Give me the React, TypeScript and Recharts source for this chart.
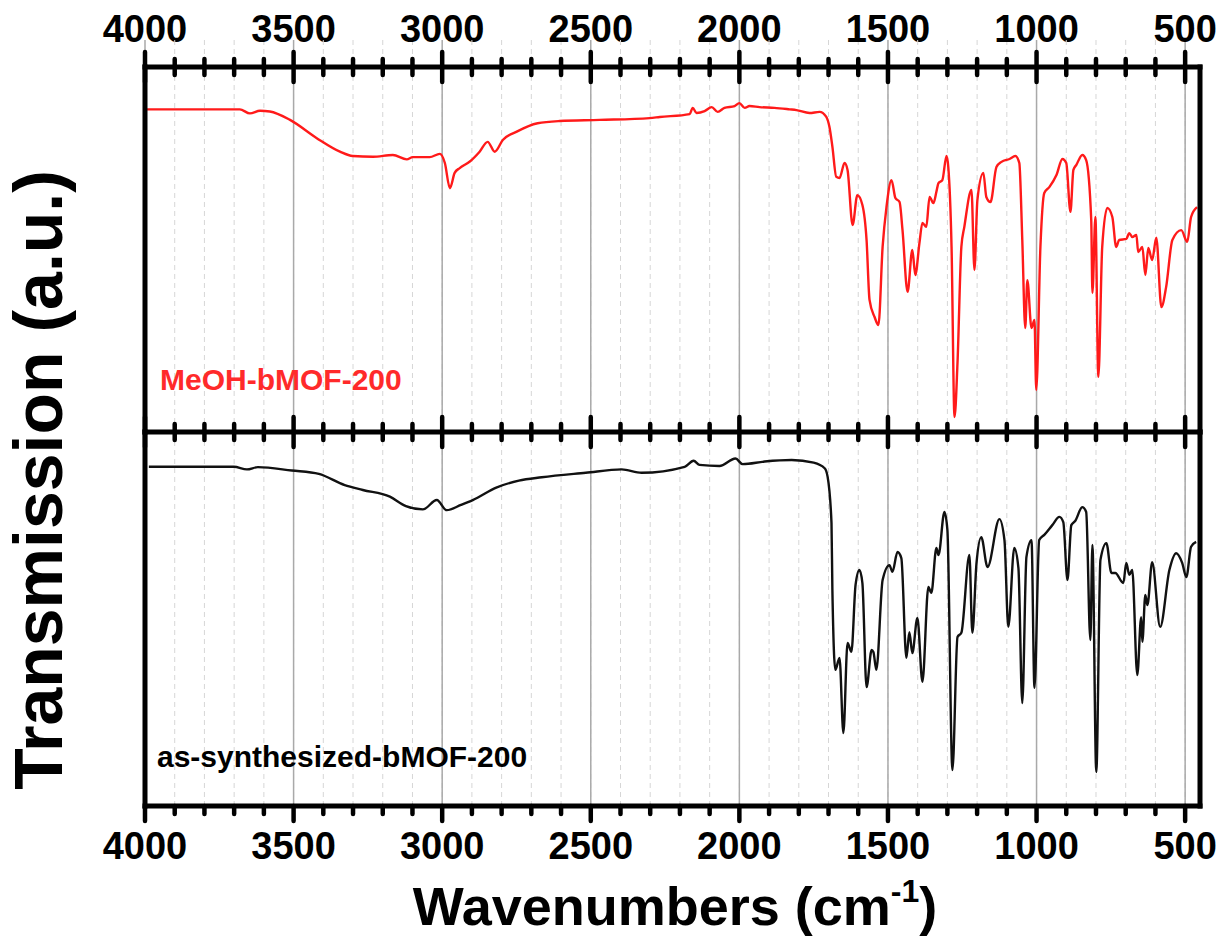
import { CartesianGrid, Line, LineChart, ReferenceLine, XAxis, YAxis } from "recharts";

const FONT = "'Liberation Sans', Arial, Helvetica, sans-serif";
const WIDTH = 1221;
const HEIGHT = 947;
const PLOT_LEFT = 145;
const PLOT_RIGHT = 1200;
const TOP_Y = 67;
const MID_Y = 432;
const BOTTOM_Y = 806;

// [wavenumber (cm-1), transmission (a.u., 0 = bottom of its panel, 100 = top)]
const meohSpectrum: [number, number][] = [
  [3993, 88.4], [3681, 88.4], [3647, 87.3], [3613, 88.0], [3580, 87.8], [3512, 85.5],
  [3422, 80.5], [3344, 76.8], [3301, 75.6], [3233, 75.4], [3166, 75.9], [3119, 74.7],
  [3099, 75.3], [3042, 75.3], [3008, 76.2], [2991, 73.7], [2974, 66.8], [2958, 71.0],
  [2941, 72.3], [2907, 74.1], [2874, 76.8], [2847, 79.5], [2823, 76.8], [2796, 80.0],
  [2749, 82.3], [2679, 84.6], [2605, 85.2], [2470, 85.5], [2302, 86.0], [2268, 86.3],
  [2167, 87.1], [2157, 88.8], [2144, 87.4], [2117, 87.9], [2093, 89.0], [2073, 87.7],
  [2050, 88.8], [2016, 89.3], [2000, 90.1], [1982, 88.8], [1966, 89.3], [1932, 89.0],
  [1882, 88.8], [1831, 88.4], [1808, 88.2], [1764, 87.4], [1730, 87.7], [1708, 86.4],
  [1697, 83.6], [1687, 78.2], [1674, 69.9], [1663, 69.6], [1646, 73.7], [1636, 71.8],
  [1619, 56.7], [1603, 64.9], [1586, 62.2], [1572, 52.6], [1562, 36.2], [1545, 31.5],
  [1532, 29.3], [1518, 50.7], [1505, 61.6], [1488, 69.0], [1475, 64.1], [1461, 63.0],
  [1451, 55.3], [1434, 38.4], [1418, 49.9], [1408, 43.0], [1394, 51.8], [1384, 57.3],
  [1371, 56.2], [1360, 64.4], [1347, 62.7], [1337, 65.8], [1330, 68.2], [1317, 69.0],
  [1303, 75.6], [1297, 72.6], [1286, 50.7], [1276, 4.1], [1266, 18.9], [1253, 50.7],
  [1243, 56.2], [1219, 66.3], [1209, 44.4], [1199, 63.6], [1179, 71.0], [1169, 64.4],
  [1155, 63.0], [1135, 72.6], [1118, 74.0], [1091, 74.8], [1071, 75.6], [1058, 73.7],
  [1048, 52.6], [1038, 28.5], [1031, 41.6], [1017, 28.5], [1007, 30.7], [1001, 11.5],
  [987, 50.7], [974, 65.5], [957, 67.1], [933, 70.4], [913, 74.8], [900, 73.7],
  [886, 60.3], [876, 71.8], [866, 73.2], [846, 75.9], [833, 74.5], [816, 58.1],
  [812, 38.1], [802, 58.9], [792, 15.1], [779, 50.7], [762, 61.4], [745, 58.9],
  [732, 50.7], [722, 52.6], [698, 52.9], [688, 54.5], [678, 53.4], [664, 54.0],
  [658, 49.3], [644, 50.7], [634, 43.0], [624, 50.4], [611, 47.1], [597, 53.2],
  [580, 34.2], [564, 39.7], [543, 52.6], [513, 55.3], [493, 52.1], [480, 58.9],
  [460, 61.6],
];

const asSynthesizedSpectrum: [number, number][] = [
  [3987, 90.7], [3701, 90.7], [3657, 90.0], [3620, 90.6], [3506, 89.7], [3415, 88.8],
  [3328, 85.8], [3267, 84.5], [3176, 82.7], [3122, 80.2], [3065, 79.3], [3018, 81.8],
  [2985, 79.1], [2937, 80.5], [2897, 81.8], [2816, 85.2], [2742, 87.0], [2665, 87.9],
  [2517, 89.1], [2396, 90.0], [2329, 89.1], [2184, 90.7], [2154, 92.3], [2134, 91.2],
  [2067, 90.9], [2013, 92.9], [1989, 91.4], [1915, 92.1], [1824, 92.5], [1750, 91.8],
  [1713, 90.3], [1703, 88.0], [1690, 75.7], [1687, 57.8], [1677, 36.4], [1663, 39.6],
  [1650, 19.5], [1636, 43.6], [1623, 41.2], [1609, 59.1], [1596, 63.1], [1586, 59.6],
  [1572, 31.8], [1555, 41.7], [1549, 41.2], [1539, 36.4], [1518, 60.4], [1495, 64.4],
  [1485, 62.6], [1468, 67.9], [1455, 66.3], [1438, 39.6], [1428, 46.5], [1418, 40.9],
  [1401, 50.3], [1384, 33.2], [1364, 58.6], [1354, 57.0], [1337, 69.0], [1330, 67.1],
  [1310, 78.6], [1300, 73.8], [1283, 9.6], [1266, 45.2], [1253, 46.3], [1226, 67.1],
  [1216, 46.3], [1202, 65.0], [1186, 71.9], [1165, 63.9], [1125, 76.7], [1108, 71.1],
  [1095, 47.9], [1075, 69.0], [1061, 63.6], [1048, 27.5], [1034, 66.6], [1017, 71.1],
  [1007, 31.6], [991, 71.1], [974, 72.5], [947, 75.1], [923, 77.3], [910, 75.9],
  [896, 60.4], [883, 75.1], [870, 76.2], [846, 79.9], [833, 78.6], [819, 44.4],
  [812, 69.8], [799, 9.1], [785, 65.8], [765, 70.3], [748, 62.3], [735, 62.3],
  [708, 59.6], [698, 65.0], [688, 61.8], [678, 63.1], [661, 35.0], [648, 50.5],
  [644, 43.9], [634, 56.4], [627, 53.7], [611, 65.2], [584, 47.9], [553, 63.1],
  [530, 67.6], [510, 65.0], [496, 61.2], [480, 69.3], [463, 70.6],
];

const majorTicks = [4000, 3500, 3000, 2500, 2000, 1500, 1000, 500];
const allTicks = Array.from({ length: 36 }, (_, i) => 4000 - i * 100);
const X_DOMAIN: [number, number] = [450, 4000];
const seriesNames = ["MeOH-bMOF-200", "as-synthesized-bMOF-200"];

type TickProps = { x?: number; y?: number; payload?: { value: number } };
type TickKind = "top" | "mid" | "bottom";

function renderTick(kind: TickKind) {
  return ({ x = 0, y = 0, payload }: TickProps) => {
    const value = payload?.value ?? 0;
    const major = value % 500 === 0;
    const len = major ? 15 : 8;
    const y1 = kind === "bottom" ? y : y - len;
    const y2 = y + len;
    return (
      <g>
        {kind === "top" && (
          <line
            x1={x}
            x2={x}
            y1={y - 27}
            y2={y}
            stroke={major ? "#a9a9a9" : "#d6d6d6"}
            strokeWidth={major ? 1.5 : 1}
            strokeDasharray={major ? undefined : "5 4"}
          />
        )}
        <line x1={x} x2={x} y1={y1} y2={y2} stroke="#000" strokeWidth={4.5} strokeLinecap="round" />
        {major && kind !== "mid" && (
          <text
            x={x}
            y={kind === "top" ? y - 25 : y + 53}
            textAnchor="middle"
            fontFamily={FONT}
            fontWeight="bold"
            fontSize={38}
            fill="#000"
          >
            {value}
          </text>
        )}
      </g>
    );
  };
}

const frameLine = { stroke: "#000", strokeWidth: 5, strokeLinecap: "square" as const };

interface PanelProps {
  spectrum: [number, number][];
  stroke: string;
  upper: boolean;
}

// axes get 1px of room each (an axis of size 0 is not drawn), so margins are 1px short
function Panel({ spectrum, stroke, upper }: PanelProps) {
  const data = spectrum.map(([w, t]) => ({ w, t }));
  const margin = upper
    ? { top: TOP_Y - 1, right: WIDTH - PLOT_RIGHT - 1, bottom: HEIGHT - MID_Y - 1, left: PLOT_LEFT - 1 }
    : { top: MID_Y, right: WIDTH - PLOT_RIGHT - 1, bottom: HEIGHT - BOTTOM_Y - 1, left: PLOT_LEFT - 1 };

  return (
    <div style={{ position: "absolute", left: 0, top: 0 }}>
      <LineChart width={WIDTH} height={HEIGHT} data={data} margin={margin}>
        <CartesianGrid
          xAxisId="x"
          yAxisId="l"
          horizontal={false}
          stroke="#d6d6d6"
          strokeDasharray="5 4"
        />
        {majorTicks.slice(1).map((m) => (
          <ReferenceLine key={m} x={m} xAxisId="x" yAxisId="l" stroke="#a9a9a9" strokeWidth={1.5} />
        ))}
        <Line
          xAxisId="x"
          yAxisId="l"
          type="monotone"
          dataKey="t"
          stroke={stroke}
          strokeWidth={2.4}
          dot={false}
          isAnimationActive={false}
        />
        <XAxis
          xAxisId="x"
          orientation={upper ? "top" : "bottom"}
          type="number"
          dataKey="w"
          domain={X_DOMAIN}
          reversed
          allowDataOverflow
          ticks={allTicks}
          interval={0}
          height={1}
          tickSize={0}
          tickMargin={0}
          tickLine={false}
          axisLine={frameLine}
          tick={renderTick(upper ? "top" : "bottom")}
        />
        {upper && (
          <XAxis
            xAxisId="x2"
            orientation="bottom"
            type="number"
            dataKey="w"
            domain={X_DOMAIN}
            reversed
            allowDataOverflow
            ticks={allTicks}
            interval={0}
            height={1}
            tickSize={0}
            tickMargin={0}
            tickLine={false}
            axisLine={frameLine}
            tick={renderTick("mid")}
          />
        )}
        <YAxis
          yAxisId="l"
          type="number"
          domain={[0, 100]}
          width={1}
          tick={false}
          tickLine={false}
          axisLine={frameLine}
        />
        <YAxis
          yAxisId="r"
          orientation="right"
          type="number"
          domain={[0, 100]}
          width={1}
          tick={false}
          tickLine={false}
          axisLine={frameLine}
        />
      </LineChart>
    </div>
  );
}

export default function App() {
  return (
    <div
      style={{
        position: "absolute",
        left: 0,
        top: 0,
        width: WIDTH,
        height: HEIGHT,
        background: "#fff",
        fontFamily: FONT,
      }}
    >
      <Panel spectrum={asSynthesizedSpectrum} stroke="#111" upper={false} />
      <Panel spectrum={meohSpectrum} stroke="#ff1a1a" upper />
      <svg
        width={WIDTH}
        height={HEIGHT}
        style={{ position: "absolute", left: 0, top: 0, pointerEvents: "none" }}
      >
        <text x={160} y={390} fontFamily={FONT} fontWeight="bold" fontSize={30} fill="#ff2a2a">
          {seriesNames[0]}
        </text>
        <text x={157} y={767} fontFamily={FONT} fontWeight="bold" fontSize={30} fill="#000">
          {seriesNames[1]}
        </text>
        <text
          transform="translate(62, 480) rotate(-90)"
          textAnchor="middle"
          fontFamily={FONT}
          fontWeight="bold"
          fontSize={68}
          fill="#000"
        >
          Transmission (a.u.)
        </text>
        <text x={675} y={925} textAnchor="middle" fontFamily={FONT} fontWeight="bold" fontSize={54} fill="#000">
          Wavenumbers (cm
          <tspan fontSize={32} dy={-23}>-1</tspan>
          <tspan dy={23}>)</tspan>
        </text>
      </svg>
    </div>
  );
}
